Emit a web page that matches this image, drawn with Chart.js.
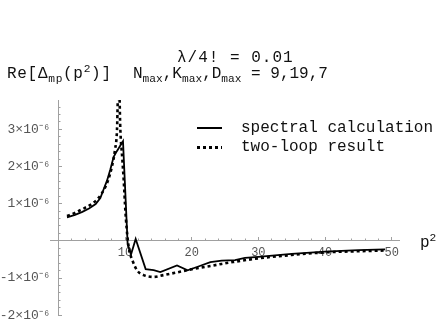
<!DOCTYPE html>
<html>
<head>
<meta charset="utf-8">
<script src="https://cdn.jsdelivr.net/npm/chart.js@4/dist/chart.umd.min.js"></script>
<style>
  body { margin: 0; background: #fff; }
  #wrap { position: relative; width: 438px; height: 326px; font-family: "Liberation Mono", monospace; color: #111; }
  #wrap canvas { position: absolute; left: 0; top: 0; }
  .t { position: absolute; white-space: nowrap; font-size: 16px; line-height: 1; }
  .t sub, .t sup { font-size: 70%; line-height: 0; }
  .key { position: absolute; left: 197px; width: 25px; height: 2px; }
</style>
</head>
<body>
<div id="wrap">
  <canvas id="chart" width="438" height="326"></canvas>
  <div class="t" style="left:177px;top:50px;letter-spacing:1px">λ/4! = 0.01</div>
  <div class="t" style="left:7px;top:66px;letter-spacing:0.7px">Re[Δ<sub>mp</sub>(p<sup>2</sup>)]</div>
  <div class="t" style="left:133px;top:66px">N<sub>max</sub>,K<sub>max</sub>,D<sub>max</sub> = 9,19,7</div>
  <div class="t" style="left:420px;top:235px">p<sup>2</sup></div>
  <div class="key" style="top:127px;background:#000"></div>
  <div class="key" style="top:146px;height:3px;background:repeating-linear-gradient(90deg,#000 0 3px,transparent 3px 6px)"></div>
  <div class="t" style="left:241px;top:120px">spectral calculation</div>
  <div class="t" style="left:241px;top:139px">two-loop result</div>
</div>
<script>
// values, y in units of 10^-6
const spectralX = [1.3, 2.5, 3.6, 4.6, 5.6, 6.3, 6.8, 7.3, 7.8, 8.3, 8.8, 9.7, 10.4, 10.9, 11.6, 13.1, 14.3, 15.3, 17.8, 19.4, 21.0, 22.8, 24.5, 26.5, 28.0, 30.0, 35.0, 40.0, 45.0, 49.0];
const spectralY = [0.63, 0.70, 0.78, 0.87, 0.99, 1.15, 1.39, 1.62, 1.92, 2.26, 2.42, 2.68, -0.10, -0.37, 0.05, -0.76, -0.79, -0.84, -0.66, -0.79, -0.69, -0.57, -0.53, -0.52, -0.46, -0.43, -0.35, -0.29, -0.25, -0.23];

const twoLoopX = [1.3, 2, 3, 4, 5, 6, 7, 7.5, 8, 8.5, 8.8, 9.05, 9.3, 9.6, 9.8, 10.07, 10.4, 10.7, 11.1, 11.8, 12.8, 14.3, 15.8, 17.5, 19.3, 21.3, 23, 24.5, 26.2, 30, 35, 40, 45, 49];
const twoLoopY = [0.67, 0.71, 0.80, 0.89, 0.99, 1.15, 1.43, 1.65, 1.97, 2.45, 2.99, 4.6, 3.0, 2.2, 1.65, 0.77, 0.05, -0.30, -0.52, -0.79, -0.92, -0.97, -0.92, -0.86, -0.79, -0.72, -0.67, -0.62, -0.57, -0.47, -0.38, -0.31, -0.28, -0.26];

const xTicks = [10, 20, 30, 40, 50];
const yTicks = [-2, -1, 1, 2, 3];

const toPoints = (xs, ys) => xs.map((x, i) => ({ x: x, y: ys[i] }));

const axisGray = '#a0a0a0';

new Chart(document.getElementById('chart').getContext('2d'), {
    type: 'line',
    data: {
        datasets: [
            {
                label: 'spectral calculation',
                data: toPoints(spectralX, spectralY),
                borderColor: '#000',
                borderWidth: 1.8,
                pointRadius: 0,
                tension: 0,
                fill: false
            },
            {
                label: 'two-loop result',
                data: toPoints(twoLoopX, twoLoopY),
                borderColor: '#000',
                borderWidth: 2.6,
                borderDash: [3, 3],
                pointRadius: 0,
                cubicInterpolationMode: 'monotone',
                fill: false
            }
        ]
    },
    options: {
        responsive: false,
        animation: false,
        layout: { padding: { left: 50, right: 39, top: 100, bottom: 9 } },
        plugins: { legend: { display: false }, tooltip: { enabled: false } },
        scales: {
            x: {
                type: 'linear', axis: 'x',
                min: -1.25, max: 51.1,
                position: { y: 0 },
                grid: { drawOnChartArea: false, tickLength: -4, color: axisGray },
                border: { color: axisGray, width: 1 },
                afterBuildTicks: s => { s.ticks = xTicks.map(v => ({ value: v })); },
                ticks: { autoSkip: false, maxRotation: 0, padding: 9, color: '#555',
                         font: { family: 'Liberation Mono', size: 12 },
                         callback: v => String(v) }
            },
            xm: {
                type: 'linear', axis: 'x',
                min: -1.25, max: 51.1,
                position: { y: 0 },
                grid: { drawOnChartArea: false, tickLength: -2.5, color: axisGray },
                border: { display: false },
                ticks: { display: false, stepSize: 2, includeBounds: false }
            },
            y: {
                type: 'linear', axis: 'y',
                min: -2, max: 3.79,
                position: { x: 0 },
                grid: { drawOnChartArea: false, tickLength: -4, color: axisGray },
                border: { color: axisGray, width: 1 },
                afterBuildTicks: s => { s.ticks = yTicks.map(v => ({ value: v })); },
                ticks: { autoSkip: false, color: '#555',
                         font: { family: 'Liberation Mono', size: 13 },
                         callback: v => v + '×10⁻⁶ ' }
            },
            ym: {
                type: 'linear', axis: 'y',
                min: -2, max: 3.79,
                position: { x: 0 },
                grid: { drawOnChartArea: false, tickLength: -2.5, color: axisGray },
                border: { display: false },
                ticks: { display: false, stepSize: 0.2, includeBounds: false }
            }
        }
    }
});
</script>
</body>
</html>
